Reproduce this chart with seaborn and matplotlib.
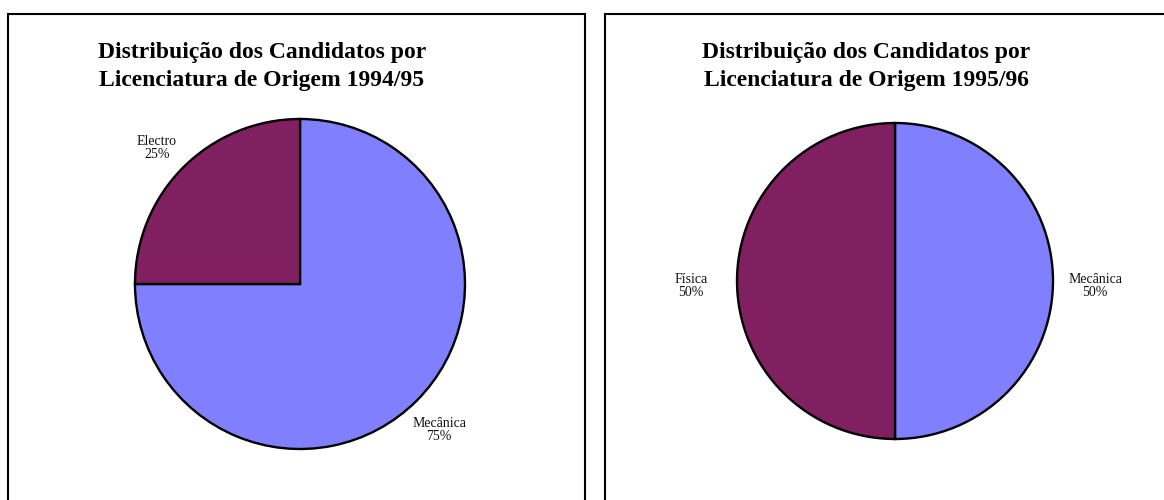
import matplotlib
matplotlib.use("Agg")
import matplotlib.pyplot as plt
import matplotlib.transforms as mtransforms
from matplotlib.patches import Rectangle
import seaborn as sns

sns.set_theme(style="white")
plt.rcParams['font.family'] = ['Liberation Serif', 'DejaVu Serif']

# Data
title_left = "Distribuição dos Candidatos por\nLicenciatura de Origem 1994/95"
title_right = "Distribuição dos Candidatos por\nLicenciatura de Origem 1995/96"
cats_9495 = ["Mecânica", "Electro"]
vals_9495 = [75, 25]
cats_9596 = ["Mecânica", "Física"]
vals_9596 = [50, 50]
colors = ["#8080FF", "#802060"]

W, H = 1164, 500
fig = plt.figure(figsize=(W / 100, H / 100), dpi=100)
fig.patch.set_facecolor("white")


def px_axes(cx, cy, r, L=1.35):
    s = 2 * L * r
    ax = fig.add_axes([(cx - s / 2) / W, (H - cy - s / 2) / H, s / W, s / H])
    return ax, L


def draw_pie(ax, L, cats, vals, labeldist):
    total = sum(vals)
    labels = [f"{c}\n{round(100 * v / total)}%" for c, v in zip(cats, vals)]
    wedges, texts = ax.pie(vals, labels=labels, colors=colors, startangle=90,
                           counterclock=False, labeldistance=labeldist,
                           wedgeprops=dict(edgecolor="black", linewidth=1.7),
                           textprops=dict(fontsize=10, ha="center", va="center",
                                          color="#111111"))
    shift = mtransforms.ScaledTranslation(-2 / 100, -5 / 100, fig.dpi_scale_trans)
    for t in texts:
        t.set_multialignment("center")
        t.set_linespacing(0.95)
        t.set_transform(t.get_transform() + shift)
    ax.set_xlim(-L, L)
    ax.set_ylim(-L, L)
    ax.set_aspect("equal")
    ax.axis("off")


# Panels borders
for x0, x1 in [(8, 585), (605, 1180)]:
    fig.patches.append(Rectangle((x0 / W, -0.1), (x1 - x0) / W, (H - 14) / H + 0.1,
                                 transform=fig.transFigure, fill=False,
                                 edgecolor="black", linewidth=1.5))

ax1, L1 = px_axes(300, 284, 165)
draw_pie(ax1, L1, cats_9495, vals_9495, 1.21)

ax2, L2 = px_axes(895, 281, 158)
draw_pie(ax2, L2, cats_9596, vals_9596, 1.28)

for cx, t in [(262, title_left), (866, title_right)]:
    fig.text(cx / W, (H - 42) / H, t, ha="center", va="top", fontsize=17,
             fontweight="bold", linespacing=1.42, color="black")

fig.savefig("out.png", dpi=100, facecolor="white")
